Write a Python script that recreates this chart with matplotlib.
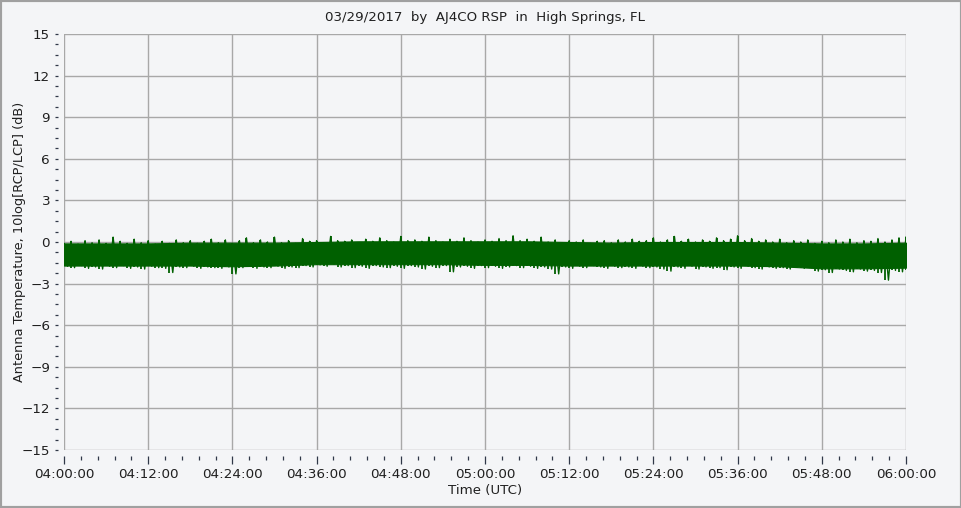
import matplotlib
matplotlib.use("Agg")
import matplotlib.pyplot as plt
import matplotlib.dates as mdates
from matplotlib.ticker import AutoMinorLocator
from matplotlib.patches import Rectangle
import numpy as np
import datetime as dt

# ---- data (dB) ----
start_time = "2017-03-29 04:00:00"

# spike envelope, 1-minute resolution
minutes = list(range(0, 121))
upper_env = [
    -0.10, 0.05, -0.15, 0.10, -0.05, 0.15, -0.10, 0.35, 0.05, -0.10, 0.20,
    -0.05, 0.10, -0.15, 0.05, -0.10, 0.15, -0.05, 0.10, -0.10, 0.05,
    0.20, -0.05, 0.15, -0.10, 0.10, 0.30, -0.05, 0.15, 0.00, 0.35,
    -0.05, 0.10, -0.10, 0.25, 0.05, 0.10, -0.05, 0.40, 0.10, 0.05,
    0.15, -0.05, 0.20, 0.05, 0.30, 0.10, 0.00, 0.40, 0.10, 0.15,
    0.05, 0.35, 0.10, 0.00, 0.20, 0.05, 0.30, 0.10, 0.00, 0.15,
    0.05, 0.25, 0.10, 0.45, 0.10, 0.20, 0.05, 0.35, 0.00, 0.15,
    -0.05, 0.10, 0.00, 0.15, -0.10, 0.05, 0.10, -0.05, 0.15, 0.00,
    0.20, 0.05, 0.10, 0.30, 0.00, 0.15, 0.40, 0.05, 0.20, 0.00,
    0.15, 0.05, 0.30, 0.10, 0.20, 0.45, 0.10, 0.25, 0.05, 0.15,
    0.00, 0.20, -0.05, 0.10, 0.00, 0.15, -0.10, 0.05, -0.05, 0.15,
    0.00, 0.20, -0.05, 0.10, 0.05, 0.25, 0.00, 0.15, 0.30, 0.35,
]
lower_env = [
    -1.75, -1.85, -1.70, -1.90, -1.80, -1.95, -1.75, -1.85, -1.70, -1.90, -1.80,
    -1.95, -1.75, -1.85, -1.90, -2.20, -1.80, -1.85, -1.75, -1.90, -1.80,
    -1.85, -1.90, -1.80, -2.30, -1.85, -1.75, -1.90, -1.80, -1.85, -1.75,
    -1.90, -1.80, -1.85, -1.70, -1.80, -1.65, -1.75, -1.60, -1.80, -1.70,
    -1.85, -1.75, -1.90, -1.70, -1.80, -1.85, -1.75, -1.90, -1.70, -1.80,
    -1.95, -1.75, -1.85, -1.70, -2.15, -1.80, -1.75, -1.90, -1.70, -1.85,
    -1.75, -1.90, -1.80, -1.70, -1.85, -1.75, -1.90, -1.80, -1.95, -2.30,
    -1.80, -1.90, -1.75, -1.85, -1.70, -1.80, -1.90, -1.75, -1.85, -1.80,
    -1.90, -1.75, -1.85, -1.80, -1.95, -2.10, -1.80, -1.90, -1.75, -1.95,
    -1.80, -1.90, -1.85, -2.00, -1.80, -1.90, -1.75, -1.85, -1.95, -1.80,
    -1.90, -1.85, -1.95, -1.80, -1.90, -1.85, -2.10, -2.00, -2.20, -1.95,
    -2.05, -2.15, -1.95, -2.10, -2.05, -2.20, -2.75, -2.05, -2.15, -2.00,
]

# solid core of the band, 6-minute resolution
core_minutes = list(range(0, 121, 6))
core_top = [-0.10, -0.10, -0.10, -0.05, -0.05, -0.05, 0.00, 0.05, 0.05, 0.05, 0.05,
            0.05, 0.00, -0.05, 0.00, 0.00, 0.00, -0.05, -0.10, -0.10, -0.05]
core_bottom = [-1.70, -1.70, -1.70, -1.70, -1.75, -1.70, -1.60, -1.60, -1.60, -1.60, -1.65,
               -1.65, -1.70, -1.70, -1.70, -1.70, -1.70, -1.75, -1.90, -1.90, -1.85]

title_text = "03/29/2017  by  AJ4CO RSP  in  High Springs, FL"
x_label = "Time (UTC)"
y_label = "Antenna Temperature, 10log[RCP/LCP] (dB)"

# ---- plotting ----
bg = "#f4f5f7"
green = "#006000"
grid_c = "#a8a8a8"

t0 = dt.datetime.strptime(start_time, "%Y-%m-%d %H:%M:%S")
times = [t0 + dt.timedelta(minutes=m) for m in minutes]
half_times = [t0 + dt.timedelta(minutes=m + 0.5) for m in minutes]
core_times = [t0 + dt.timedelta(minutes=m) for m in core_minutes]

fig = plt.figure(figsize=(9.62, 5.08), dpi=100, facecolor=bg)
ax = fig.add_axes([64 / 962, 58 / 508, 842 / 962, 416 / 508])
ax.set_facecolor(bg)

ax.fill_between(core_times, core_bottom, core_top, color=green, linewidth=0.8,
                edgecolor=green, zorder=3)
ax.vlines(times, lower_env, upper_env, color=green, linewidth=1.3, zorder=3)
# trace linking the extremes, as the noisy record does
zig_t, zig_v = [], []
for t_u, t_l, u, l in zip(times, half_times, upper_env, lower_env):
    zig_t += [t_u, t_l]
    zig_v += [u, l]
ax.plot(zig_t[:-1], zig_v[:-1], color=green, linewidth=1.0, zorder=3)

ax.set_ylim(-15, 15)
ax.set_xlim(times[0], times[-1])
ax.set_yticks(np.arange(-15, 16, 3))
ax.yaxis.set_minor_locator(AutoMinorLocator(4))
ax.xaxis.set_major_locator(mdates.MinuteLocator(byminute=range(0, 60, 12)))
ax.xaxis.set_minor_locator(AutoMinorLocator(5))
ax.xaxis.set_major_formatter(mdates.DateFormatter("%H:%M:%S"))

ax.grid(True, which="major", color=grid_c, linewidth=1.0, zorder=1)
for s in ax.spines.values():
    s.set_visible(False)
ax.spines["bottom"].set_position(("outward", 4))
ax.spines["left"].set_position(("outward", 4))

ax.tick_params(axis="both", which="major", colors="#303848", labelcolor="#202020",
               labelsize=9.7, width=0.9)
ax.tick_params(axis="x", which="major", length=6, pad=3)
ax.tick_params(axis="x", which="minor", length=3, width=0.9, colors="#303848")
ax.tick_params(axis="y", which="major", length=2, pad=4)
ax.tick_params(axis="y", which="minor", length=2, width=0.9, colors="#303848")

ax.set_title(title_text, fontsize=9.6, color="#202020", pad=9)
ax.set_xlabel(x_label, fontsize=9.6, color="#202020", labelpad=2)
ax.set_ylabel(y_label, fontsize=9.3, color="#202020")
ax.yaxis.set_label_coords(-38 / 842, 0.5)

fig.patches.append(Rectangle((0, 0), 1, 1, transform=fig.transFigure,
                             fill=False, edgecolor="#a0a0a0", linewidth=3))

fig.savefig("out.png", dpi=100, facecolor=bg)
